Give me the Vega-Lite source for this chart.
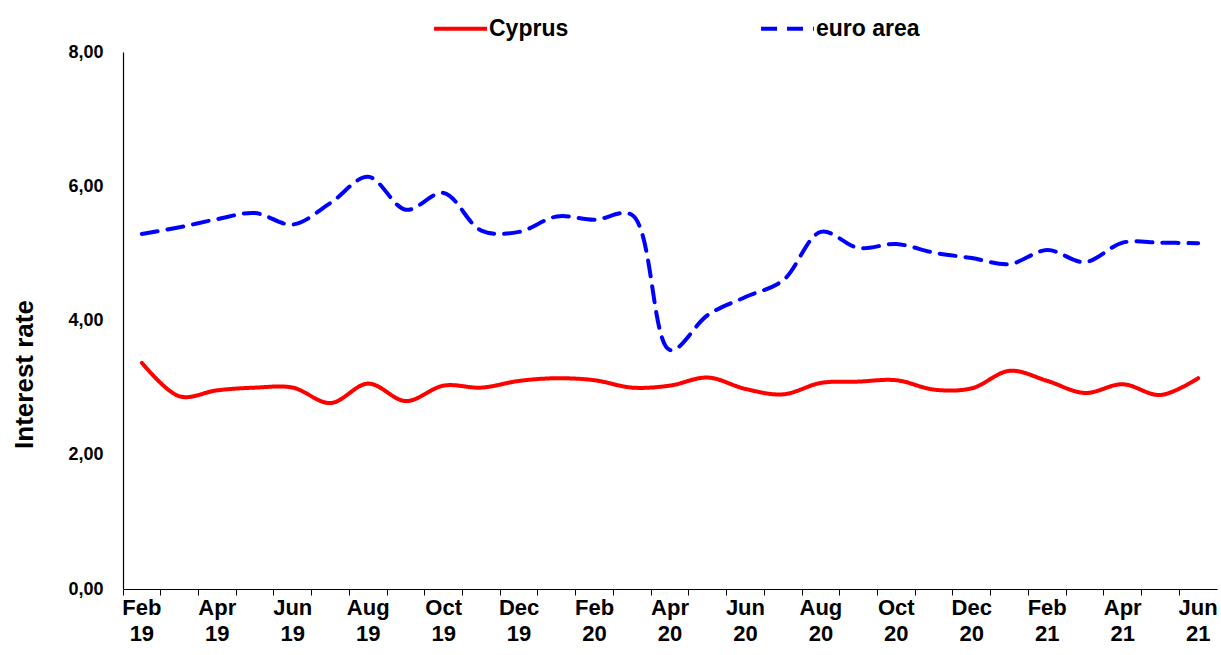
{
  "$schema": "https://vega.github.io/schema/vega-lite/v6.json",
  "width": 1094,
  "height": 537,
  "autosize": "none",
  "padding": {"left": 123, "top": 52, "right": 4, "bottom": 66},
  "background": "white",
  "config": {
    "view": {"stroke": null},
    "font": "Liberation Sans"
  },
  "data": {
    "values": [
      {"month": "Feb 19", "series": "Cyprus", "value": 3.37},
      {"month": "Mar 19", "series": "Cyprus", "value": 2.87},
      {"month": "Apr 19", "series": "Cyprus", "value": 2.96},
      {"month": "May 19", "series": "Cyprus", "value": 3.0},
      {"month": "Jun 19", "series": "Cyprus", "value": 3.0},
      {"month": "Jul 19", "series": "Cyprus", "value": 2.77},
      {"month": "Aug 19", "series": "Cyprus", "value": 3.06},
      {"month": "Sep 19", "series": "Cyprus", "value": 2.8},
      {"month": "Oct 19", "series": "Cyprus", "value": 3.03},
      {"month": "Nov 19", "series": "Cyprus", "value": 3.0},
      {"month": "Dec 19", "series": "Cyprus", "value": 3.1},
      {"month": "Jan 20", "series": "Cyprus", "value": 3.14},
      {"month": "Feb 20", "series": "Cyprus", "value": 3.11},
      {"month": "Mar 20", "series": "Cyprus", "value": 3.0},
      {"month": "Apr 20", "series": "Cyprus", "value": 3.03},
      {"month": "May 20", "series": "Cyprus", "value": 3.15},
      {"month": "Jun 20", "series": "Cyprus", "value": 2.98},
      {"month": "Jul 20", "series": "Cyprus", "value": 2.9},
      {"month": "Aug 20", "series": "Cyprus", "value": 3.07},
      {"month": "Sep 20", "series": "Cyprus", "value": 3.09},
      {"month": "Oct 20", "series": "Cyprus", "value": 3.11},
      {"month": "Nov 20", "series": "Cyprus", "value": 2.97},
      {"month": "Dec 20", "series": "Cyprus", "value": 2.99},
      {"month": "Jan 21", "series": "Cyprus", "value": 3.25},
      {"month": "Feb 21", "series": "Cyprus", "value": 3.1},
      {"month": "Mar 21", "series": "Cyprus", "value": 2.92},
      {"month": "Apr 21", "series": "Cyprus", "value": 3.05},
      {"month": "May 21", "series": "Cyprus", "value": 2.89},
      {"month": "Jun 21", "series": "Cyprus", "value": 3.14},
      {"month": "Feb 19", "series": "euro area", "value": 5.29},
      {"month": "Mar 19", "series": "euro area", "value": 5.39},
      {"month": "Apr 19", "series": "euro area", "value": 5.51},
      {"month": "May 19", "series": "euro area", "value": 5.6},
      {"month": "Jun 19", "series": "euro area", "value": 5.43},
      {"month": "Jul 19", "series": "euro area", "value": 5.75},
      {"month": "Aug 19", "series": "euro area", "value": 6.14},
      {"month": "Sep 19", "series": "euro area", "value": 5.65},
      {"month": "Oct 19", "series": "euro area", "value": 5.9},
      {"month": "Nov 19", "series": "euro area", "value": 5.34},
      {"month": "Dec 19", "series": "euro area", "value": 5.32},
      {"month": "Jan 20", "series": "euro area", "value": 5.55},
      {"month": "Feb 20", "series": "euro area", "value": 5.5},
      {"month": "Mar 20", "series": "euro area", "value": 5.57},
      {"month": "Apr 20", "series": "euro area", "value": 3.56},
      {"month": "May 20", "series": "euro area", "value": 4.08},
      {"month": "Jun 20", "series": "euro area", "value": 4.35},
      {"month": "Jul 20", "series": "euro area", "value": 4.6},
      {"month": "Aug 20", "series": "euro area", "value": 5.32},
      {"month": "Sep 20", "series": "euro area", "value": 5.08},
      {"month": "Oct 20", "series": "euro area", "value": 5.14},
      {"month": "Nov 20", "series": "euro area", "value": 5.01},
      {"month": "Dec 20", "series": "euro area", "value": 4.93},
      {"month": "Jan 21", "series": "euro area", "value": 4.84},
      {"month": "Feb 21", "series": "euro area", "value": 5.05},
      {"month": "Mar 21", "series": "euro area", "value": 4.87},
      {"month": "Apr 21", "series": "euro area", "value": 5.16},
      {"month": "May 21", "series": "euro area", "value": 5.16},
      {"month": "Jun 21", "series": "euro area", "value": 5.15}
    ]
  },
  "mark": {"type": "line", "interpolate": "catmull-rom", "strokeWidth": 4, "strokeCap": "round"},
  "encoding": {
    "x": {
      "field": "month",
      "type": "ordinal",
      "sort": null,
      "scale": {"type": "band", "paddingInner": 0, "paddingOuter": 0},
      "axis": {
        "title": null,
        "bandPosition": 0,
        "labelOffset": 0,
        "labelAngle": 0,
        "labelExpr": "test(/^(Feb|Apr|Jun|Aug|Oct|Dec)/, datum.value) ? split(datum.value, ' ') : ''",
        "labelFontSize": 22,
        "labelFontWeight": "bold",
        "labelColor": "black",
        "labelLineHeight": 26,
        "labelBaseline": "top",
        "labelPadding": 2,
        "labelOverlap": false,
        "labelBound": false,
        "tickSize": 6,
        "tickColor": "black",
        "domainColor": "black",
        "domainWidth": 1.2
      }
    },
    "y": {
      "field": "value",
      "type": "quantitative",
      "scale": {"domain": [0, 8], "nice": false, "zero": true},
      "axis": {
        "title": "Interest rate",
        "titleFontSize": 26,
        "titleFontWeight": "bold",
        "titleColor": "black",
        "titlePadding": 30,
        "titleY": 322,
        "titleAlign": "center",
        "values": [0, 2, 4, 6, 8],
        "labelExpr": "replace(format(datum.value, '.2f'), '.', ',')",
        "labelFontSize": 18,
        "labelFontWeight": "bold",
        "labelColor": "black",
        "labelPadding": 20,
        "ticks": false,
        "grid": false,
        "domainColor": "black",
        "domainWidth": 1.2
      }
    },
    "color": {
      "field": "series",
      "type": "nominal",
      "scale": {"domain": ["Cyprus", "euro area"], "range": ["#ff0000", "#0000ff"]},
      "legend": {
        "title": null,
        "orient": "none",
        "legendX": 309,
        "legendY": -52,
        "direction": "horizontal",
        "columns": 2,
        "columnPadding": 184,
        "symbolType": "stroke",
        "symbolSize": 2800,
        "symbolStrokeWidth": 4,
        "labelFontSize": 23,
        "labelFontWeight": "bold",
        "labelColor": "black",
        "labelOffset": 0,
        "labelLimit": 300
      }
    },
    "strokeDash": {
      "field": "series",
      "type": "nominal",
      "scale": {"domain": ["Cyprus", "euro area"], "range": [[1, 0], [16, 10]]},
      "legend": null
    }
  }
}
